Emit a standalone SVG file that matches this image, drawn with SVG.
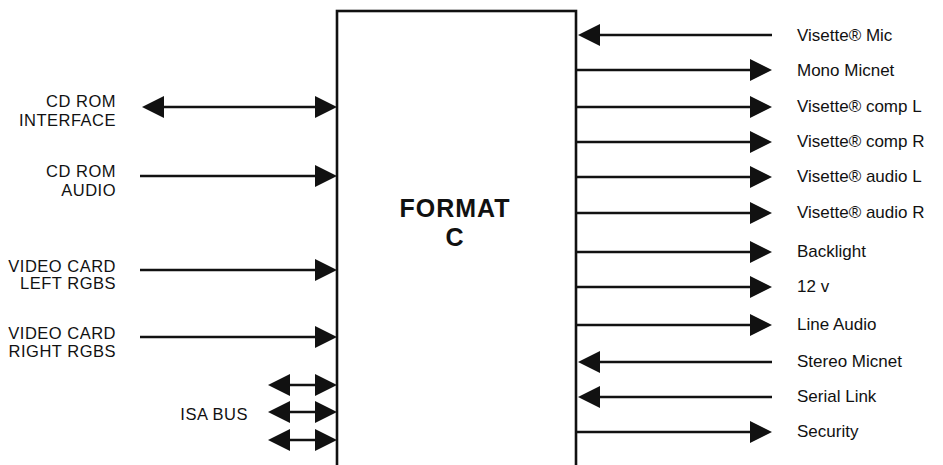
<svg xmlns="http://www.w3.org/2000/svg" width="943" height="465" viewBox="0 0 943 465">
<style>
text{font-family:"Liberation Sans",Arial,Helvetica,sans-serif;fill:#111}
.ll{font-size:16.5px;text-anchor:end;letter-spacing:0.5px}
.rl{font-size:17px}
.title{font-size:25px;font-weight:bold;text-anchor:middle;letter-spacing:1px}
.c{stroke:#111;stroke-width:2.6;fill:none}
.box{stroke:#111;stroke-width:2.6;fill:#fff}
</style>
<defs>
<marker id="ah" viewBox="0 0 22 22" refX="18" refY="11" markerWidth="22" markerHeight="22" markerUnits="userSpaceOnUse" orient="auto-start-reverse">
<path d="M0,0 L22,11 L0,22 z" fill="#111"/>
</marker>
</defs>
<g id="format-c">
<rect class="box" x="337" y="11" width="239" height="470"/>
<text class="title" x="455" y="217">FORMAT</text>
<text class="title" x="455" y="246">C</text>
</g>
<g id="labels-left">
<g id="cdrom-interface"><text class="ll" x="116" y="107">CD ROM</text><text class="ll" x="116" y="126">INTERFACE</text></g>
<g id="cdrom-audio"><text class="ll" x="116" y="177">CD ROM</text><text class="ll" x="116" y="196">AUDIO</text></g>
<g id="video-left"><text class="ll" x="116" y="272">VIDEO CARD</text><text class="ll" x="116" y="289">LEFT RGBS</text></g>
<g id="video-right"><text class="ll" x="116" y="339">VIDEO CARD</text><text class="ll" x="116" y="357">RIGHT RGBS</text></g>
<g id="isa-bus"><text class="ll" x="248" y="420">ISA BUS</text></g>
</g>
<g id="labels-right">
<g id="visette-mic"><text class="rl" x="797" y="41">Visette® Mic</text></g>
<g id="mono-micnet"><text class="rl" x="797" y="76">Mono Micnet</text></g>
<g id="comp-l"><text class="rl" x="797" y="112">Visette® comp L</text></g>
<g id="comp-r"><text class="rl" x="797" y="147">Visette® comp R</text></g>
<g id="audio-l"><text class="rl" x="797" y="182">Visette® audio L</text></g>
<g id="audio-r"><text class="rl" x="797" y="218">Visette® audio R</text></g>
<g id="backlight"><text class="rl" x="797" y="257">Backlight</text></g>
<g id="v12"><text class="rl" x="797" y="292">12 v</text></g>
<g id="line-audio"><text class="rl" x="797" y="330">Line Audio</text></g>
<g id="stereo-micnet"><text class="rl" x="797" y="367">Stereo Micnet</text></g>
<g id="serial-link"><text class="rl" x="797" y="402">Serial Link</text></g>
<g id="security"><text class="rl" x="797" y="437">Security</text></g>
</g>
<g id="connectors">
<line class="c" x1="146" y1="107" x2="333" y2="107" marker-start="url(#ah)" marker-end="url(#ah)"/>
<line class="c" x1="140" y1="176" x2="333" y2="176" marker-end="url(#ah)"/>
<line class="c" x1="140" y1="270" x2="333" y2="270" marker-end="url(#ah)"/>
<line class="c" x1="140" y1="337" x2="333" y2="337" marker-end="url(#ah)"/>
<line class="c" x1="272" y1="385" x2="333" y2="385" marker-start="url(#ah)" marker-end="url(#ah)"/>
<line class="c" x1="272" y1="412" x2="333" y2="412" marker-start="url(#ah)" marker-end="url(#ah)"/>
<line class="c" x1="272" y1="440" x2="333" y2="440" marker-start="url(#ah)" marker-end="url(#ah)"/>
<line class="c" x1="772" y1="35" x2="582" y2="35" marker-end="url(#ah)"/>
<line class="c" x1="576" y1="70" x2="768" y2="70" marker-end="url(#ah)"/>
<line class="c" x1="576" y1="107" x2="768" y2="107" marker-end="url(#ah)"/>
<line class="c" x1="576" y1="142" x2="768" y2="142" marker-end="url(#ah)"/>
<line class="c" x1="576" y1="177" x2="768" y2="177" marker-end="url(#ah)"/>
<line class="c" x1="576" y1="213" x2="768" y2="213" marker-end="url(#ah)"/>
<line class="c" x1="576" y1="252" x2="768" y2="252" marker-end="url(#ah)"/>
<line class="c" x1="576" y1="287" x2="768" y2="287" marker-end="url(#ah)"/>
<line class="c" x1="576" y1="325" x2="768" y2="325" marker-end="url(#ah)"/>
<line class="c" x1="772" y1="362" x2="582" y2="362" marker-end="url(#ah)"/>
<line class="c" x1="772" y1="397" x2="582" y2="397" marker-end="url(#ah)"/>
<line class="c" x1="576" y1="432" x2="768" y2="432" marker-end="url(#ah)"/>
</g>
</svg>
